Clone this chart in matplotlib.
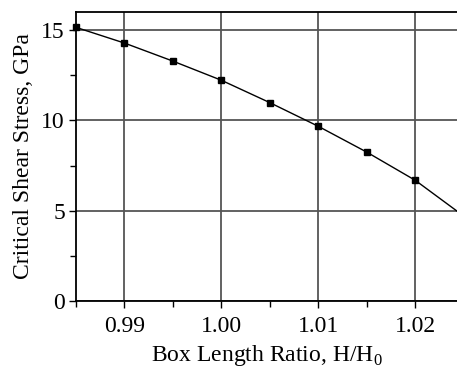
import numpy as np
import matplotlib.pyplot as plt
from matplotlib.ticker import MultipleLocator

# data
ratio = [0.985, 0.99, 0.995, 1.00, 1.005, 1.01, 1.015, 1.02, 1.025]
stress = [15.15, 14.28, 13.28, 12.22, 10.98, 9.67, 8.24, 6.68, 4.7]
n_marked = 8  # last point sits outside the visible frame

plt.rcParams['font.family'] = ['Liberation Serif', 'DejaVu Serif']

fig = plt.figure(figsize=(4.57, 3.74), dpi=100)
ax = fig.add_axes([76 / 457, 1 - 301 / 374, (457 - 76) / 457, (301 - 12) / 374])

ax.plot(ratio, stress, color='black', linewidth=1.0, clip_on=True, zorder=3)
ax.plot(ratio[:n_marked], stress[:n_marked], linestyle='none', marker='s',
        markersize=5, color='black', clip_on=False, zorder=4)

ax.set_xlim(0.985, 1.0243)
ax.set_ylim(0, 16)
ax.xaxis.set_major_locator(MultipleLocator(0.01))
ax.xaxis.set_minor_locator(MultipleLocator(0.005))
ax.yaxis.set_major_locator(MultipleLocator(5))
ax.yaxis.set_minor_locator(MultipleLocator(2.5))
ax.xaxis.set_major_formatter(plt.FuncFormatter(lambda v, p: f'{v:.2f}'))

ax.grid(True, which='major', color='#555555', linewidth=1.3)
ax.tick_params(which='both', direction='out', labelsize=17, colors='black')
ax.tick_params(which='major', length=5, width=1)
ax.tick_params(which='minor', length=4, width=1)
ax.tick_params(axis='x', pad=6)
ax.tick_params(axis='y', pad=3)
ax.spines['right'].set_visible(False)
for s in ['left', 'bottom', 'top']:
    ax.spines[s].set_linewidth(1.3)

ax.set_xlabel('Box Length Ratio, H/H$_\\mathregular{0}$', fontsize=17, labelpad=4)
ax.set_ylabel('Critical Shear Stress, GPa', fontsize=17, labelpad=5)

fig.savefig('out.png', dpi=100)
